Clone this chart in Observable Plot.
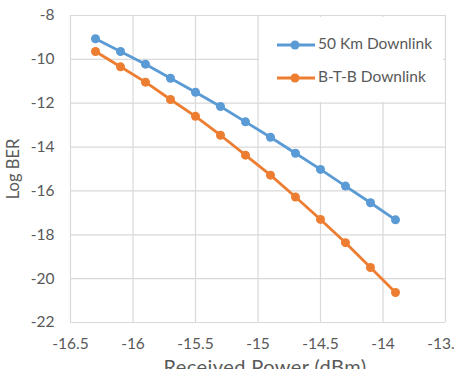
<!DOCTYPE html>
<html>
<head>
<meta charset="utf-8">
<script src="https://cdn.jsdelivr.net/npm/d3@7"></script>
<script src="https://cdn.jsdelivr.net/npm/@observablehq/plot@0.6"></script>
<style>
  html, body { margin: 0; padding: 0; background: #fff; overflow: hidden; }
  #chart svg { font-family: Lato, "Open Sans", sans-serif; }
</style>
</head>
<body>
<div id="chart"></div>
<script>
// Received optical power (dBm) at each measurement
const power = [-16.3, -16.1, -15.9, -15.7, -15.5, -15.3, -15.1, -14.9, -14.7, -14.5, -14.3, -14.1, -13.9];
// log10(BER) after 50 km of fibre, downlink
const ber50km = [-9.06, -9.64, -10.22, -10.86, -11.50, -12.15, -12.85, -13.55, -14.28, -15.02, -15.78, -16.54, -17.32];
// log10(BER) back-to-back, downlink
const berBtB = [-9.64, -10.34, -11.04, -11.83, -12.60, -13.46, -14.37, -15.28, -16.28, -17.30, -18.36, -19.49, -20.63];

const seriesNames = ["50 Km Downlink", "B-T-B Downlink"];
const seriesColors = ["#5B9BD5", "#ED7D31"];
const xTicks = [-16.5, -16, -15.5, -15, -14.5, -14, -13.5];
const yTicks = [-22, -20, -18, -16, -14, -12, -10, -8];

const rows = [
  ...power.map((p, i) => ({power: p, ber: ber50km[i], series: seriesNames[0]})),
  ...power.map((p, i) => ({power: p, ber: berBtB[i], series: seriesNames[1]}))
];

const textColor = "#595959";
const gridColor = "#D9D9D9";

const chart = Plot.plot({
  width: 454,
  height: 369,
  marginLeft: 70,
  marginRight: 9,
  marginTop: 15,
  marginBottom: 47,
  style: {fontSize: "15px", color: textColor},
  x: {domain: [-16.5, -13.5]},
  y: {domain: [-22, -8]},
  color: {domain: seriesNames, range: seriesColors},
  marks: [
    Plot.gridX(xTicks, {stroke: gridColor, strokeOpacity: 1, strokeWidth: 1.2}),
    Plot.gridY(yTicks, {stroke: gridColor, strokeOpacity: 1, strokeWidth: 1.2}),
    Plot.axisX(xTicks, {tickSize: 0, tickPadding: 15, tickFormat: d => String(d), label: null, fill: textColor, fontSize: 15.5}),
    Plot.axisY(yTicks, {tickSize: 0, tickPadding: 16, tickFormat: d => String(d), label: null, fill: textColor, fontSize: 15.5}),
    Plot.line(rows, {x: "power", y: "ber", z: "series", stroke: "series", strokeWidth: 2.8}),
    Plot.dot(rows, {x: "power", y: "ber", fill: "series", r: 4.5})
  ]
});

document.getElementById("chart").appendChild(chart);

// Axis titles and the in-plot legend
const svg = d3.select(chart);
svg.append("text")
  .attr("x", 265).attr("y", 374)
  .attr("text-anchor", "middle")
  .attr("fill", textColor).attr("font-size", 20).attr("letter-spacing", 0.4)
  .text("Received Power (dBm)");
svg.append("text")
  .attr("transform", "translate(15,169) rotate(-90)")
  .attr("text-anchor", "middle").attr("dominant-baseline", "middle")
  .attr("fill", textColor).attr("font-size", 16.5)
  .text("Log BER");

const legend = svg.append("g");
legend.append("rect")
  .attr("x", 259).attr("y", 17).attr("width", 184).attr("height", 85)
  .attr("fill", "#fff");
seriesNames.forEach((name, i) => {
  const cy = 45 + i * 33;
  legend.append("line")
    .attr("x1", 277).attr("x2", 315).attr("y1", cy).attr("y2", cy)
    .attr("stroke", seriesColors[i]).attr("stroke-width", 2.8);
  legend.append("circle")
    .attr("cx", 295).attr("cy", cy).attr("r", 4.5)
    .attr("fill", seriesColors[i]);
  legend.append("text")
    .attr("x", 318).attr("y", cy)
    .attr("text-anchor", "start").attr("dominant-baseline", "middle")
    .attr("fill", textColor).attr("font-size", 15.5)
    .text(name);
});
</script>
</body>
</html>
